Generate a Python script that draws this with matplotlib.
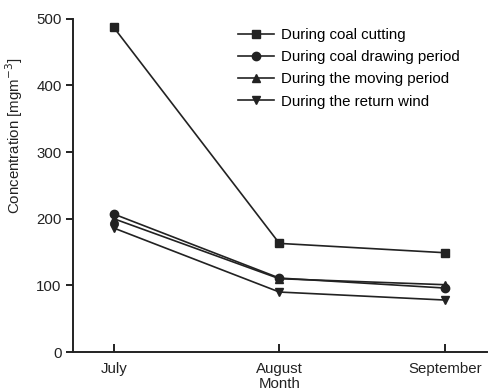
"""
Dust concentration by month for the four working periods.
"""
import matplotlib
matplotlib.use('Agg')
import matplotlib.pyplot as plt

plt.rcParams['font.family'] = ['Liberation Sans', 'DejaVu Sans']

months = ['July', 'August', 'September']
coal_cutting = [487, 163, 149]
coal_drawing = [207, 111, 96]
moving_period = [200, 110, 101]
return_wind = [186, 90, 78]

series = [
    ('During coal cutting', coal_cutting, 's'),
    ('During coal drawing period', coal_drawing, 'o'),
    ('During the moving period', moving_period, '^'),
    ('During the return wind', return_wind, 'v'),
]

fs = 10.8
ink = '#222222'

fig = plt.figure(figsize=(5.02, 3.92), dpi=100)
ax = fig.add_axes([0.145, 0.102, 0.825, 0.85])

x = list(range(len(months)))
for label, values, marker in series:
    ax.plot(x, values, color=ink, linewidth=1.2, marker=marker,
            markersize=6, label=label)

ax.set_xlim(-0.248, 2.254)
ax.set_ylim(0, 500)
ax.set_xticks(x)
ax.set_xticklabels(months)
ax.set_yticks([0, 100, 200, 300, 400, 500])

for side in ('top', 'right'):
    ax.spines[side].set_visible(False)
for side in ('left', 'bottom'):
    ax.spines[side].set_linewidth(1.4)
    ax.spines[side].set_color(ink)

ax.tick_params(axis='y', direction='out', length=5, width=1.4, labelsize=fs,
               colors=ink, pad=3)
ax.tick_params(axis='x', direction='in', length=6, width=1.4, labelsize=fs,
               colors=ink, pad=7)

ax.set_xlabel('Month', fontsize=fs, color=ink, labelpad=1)
ax.set_ylabel('Concentration [mgm$^{-3}$]', fontsize=fs, color=ink)
ax.yaxis.set_label_coords(-0.116, 0.65)

ax.legend(loc='upper right', bbox_to_anchor=(0.957, 1.0), frameon=False,
          fontsize=fs, handlelength=2.4, handletextpad=0.5, labelspacing=0.55,
          borderaxespad=0.2)

fig.savefig('out.png', dpi=100)
